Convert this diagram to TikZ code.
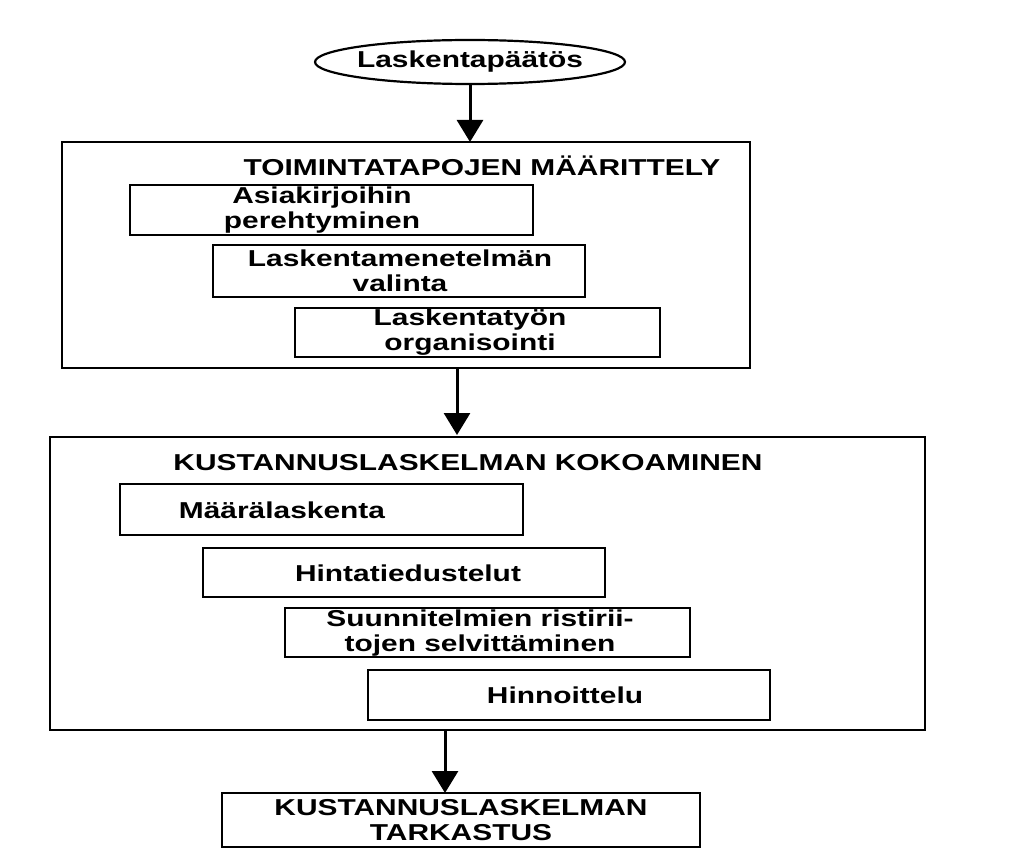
\documentclass[tikz,border=0pt]{standalone}
\usepackage{fontspec}
\setmainfont{Liberation Sans}
\usetikzlibrary{shapes.geometric,arrows.meta}
\begin{document}
\begin{tikzpicture}[x=1pt,y=-1pt,
  txt/.style={font=\fontsize{23}{25}\selectfont\bfseries,align=center,inner sep=0pt,xscale=1.3},
  bx/.style={draw,line width=2.2pt},
  arr/.style={line width=3pt,-{Triangle[width=26pt,length=22pt]}}]
\useasboundingbox[fill=white] (0,0) rectangle (1024,861);
\draw[line width=2.2pt] (470,62) ellipse (155pt and 22pt);
\node[txt] (dec) at (470,62) {Laskentapäätös};
\coordinate (decb) at (470,84);
\draw[bx] (62,142) rectangle (750,368);
\coordinate (o1t) at (470,142); \coordinate (o1b) at (457,368);
\node[txt] (t1) at (482,166) {TOIMINTATAPOJEN MÄÄRITTELY};
\draw[bx] (130,185) rectangle (533,235); \node[txt] (a1) at (322,210) {Asiakirjoihin\\perehtyminen};
\draw[bx] (213,245) rectangle (585,297); \node[txt] (a2) at (400,271) {Laskentamenetelmän\\valinta};
\draw[bx] (295,308) rectangle (660,357); \node[txt] (a3) at (470,332) {Laskentatyön\\organisointi};
\draw[bx] (50,437) rectangle (925,730);
\coordinate (o2t) at (457,435); \coordinate (o2b) at (445,730);
\node[txt] (t2) at (468,463) {KUSTANNUSLASKELMAN KOKOAMINEN};
\draw[bx] (120,484) rectangle (523,535); \node[txt] (b1) at (282,510) {Määrälaskenta};
\draw[bx] (203,548) rectangle (605,597); \node[txt] (b2) at (408,573) {Hintatiedustelut};
\draw[bx] (285,608) rectangle (690,657); \node[txt] (b3) at (480,633) {Suunnitelmien ristirii-\\tojen selvittäminen};
\draw[bx] (368,670) rectangle (770,720); \node[txt] (b4) at (565,695) {Hinnoittelu};
\draw[bx] (222,793) rectangle (700,847);
\coordinate (fint) at (445,793);
\node[txt] (fin) at (461,820) {KUSTANNUSLASKELMAN\\TARKASTUS};
\draw[arr] (decb) -- (o1t);
\draw[arr] (o1b) -- (o2t);
\draw[arr] (o2b) -- (fint);
\end{tikzpicture}
\end{document}
